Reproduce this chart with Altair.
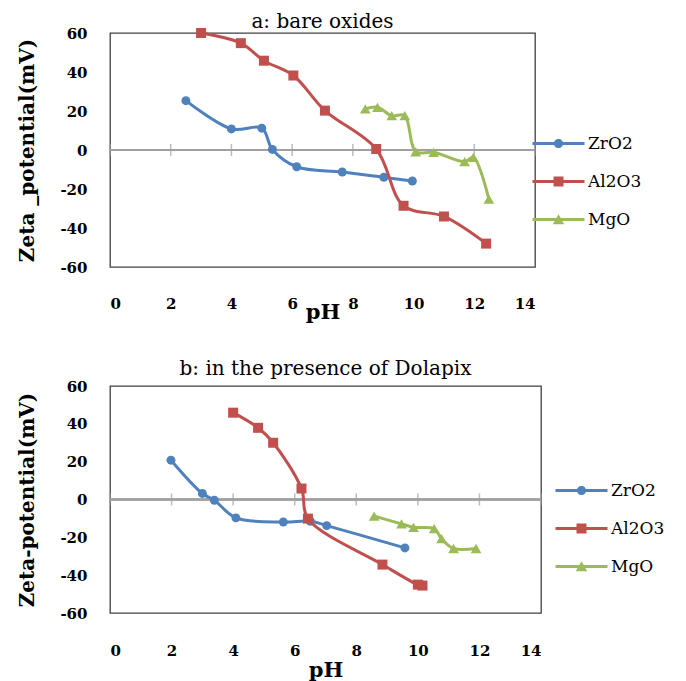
import altair as alt
import pandas as pd

names = ["ZrO2", "Al2O3", "MgO"]
colors = ["#4F81BD", "#C0504D", "#9BBB59"]
shapes = ["circle", "square", "triangle-up"]
sizes = [80, 100, 115]

x_labels = [0, 2, 4, 6, 8, 10, 12, 14]
x_tick_marks = [0, 2, 4, 6, 8, 10, 12, 14]
y_labels = [-60, -40, -20, 0, 20, 40, 60]

# panel a: bare oxides
a_zro2_ph = [2.5, 4.0, 5.0, 5.35, 6.15, 7.65, 9.02, 9.96]
a_zro2_zeta = [25.3, 10.8, 11.2, 0.3, -8.6, -11.3, -14.0, -15.9]
a_al2o3_ph = [3.0, 4.31, 5.07, 6.04, 7.08, 8.77, 9.67, 11.0, 12.39]
a_al2o3_zeta = [60.0, 54.8, 45.8, 38.2, 20.2, 0.5, -28.6, -34.1, -48.0]
a_mgo_ph = [8.41, 8.81, 9.28, 9.71, 10.07, 10.66, 11.68, 11.97, 12.48]
a_mgo_zeta = [21.1, 21.9, 17.6, 17.6, -0.9, -1.2, -6.0, -3.8, -25.2]

# panel b: in the presence of Dolapix
b_zro2_ph = [1.98, 3.0, 3.39, 4.09, 5.63, 6.51, 7.04, 9.58]
b_zro2_zeta = [20.8, 3.2, -0.4, -9.7, -11.9, -11.5, -13.8, -25.6]
b_al2o3_ph = [4.0, 4.81, 5.30, 6.22, 6.43, 8.85, 10.0, 10.15]
b_al2o3_zeta = [45.9, 37.9, 30.0, 5.8, -10.1, -34.4, -45.0, -45.5]
b_mgo_ph = [8.58, 9.47, 9.86, 10.53, 10.77, 11.16, 11.89]
b_mgo_zeta = [-8.8, -12.9, -14.7, -15.4, -20.7, -25.9, -25.9]

FONT = "DejaVu Serif"
GRAY = "#A0A0A0"

# legend symbols: line + marker (unit coords, scaled by 5 px at symbolSize 100)
LINE = "M-5.2,-0.3L5.2,-0.3L5.2,0.3L-5.2,0.3Z"
legend_paths = [
    LINE + "M0.92,0A0.92,0.92 0 1,1 -0.92,0A0.92,0.92 0 1,1 0.92,0Z",
    LINE + "M-1,-1L1,-1L1,1L-1,1Z",
    LINE + "M0,-1.05L1.15,0.95L-1.15,0.95Z",
]


def make_df(series):
    rows = []
    for name, (ph, z) in zip(names, series):
        for i, (p, v) in enumerate(zip(ph, z)):
            rows.append({"Oxide": name, "pH": p, "zeta": v, "order": i})
    return pd.DataFrame(rows)


def panel(series, title, ytitle, w, h, lab_pad, ttl_pad, legx, legy, toff):
    df = make_df(series)
    ticks_df = pd.DataFrame({"pH": x_tick_marks, "zeta": [0] * len(x_tick_marks)})
    x = alt.X(
        "pH:Q",
        scale=alt.Scale(domain=[0, 14], nice=False, zero=False),
        axis=alt.Axis(
            values=x_labels, title="pH", grid=False, domain=False, ticks=False,
            tickSize=0, labelPadding=lab_pad, labelFont=FONT, labelFontSize=15,
            labelFontWeight="bold", labelColor="black", labelOverlap=False,
            titleFont=FONT, titleFontSize=21, titleFontWeight="bold",
            titleColor="black", titlePadding=ttl_pad,
        ),
    )
    y = alt.Y(
        "zeta:Q",
        scale=alt.Scale(domain=[-60, 60], nice=False),
        axis=alt.Axis(
            values=y_labels, title=ytitle, grid=False, domain=False, ticks=False,
            tickSize=0, labelPadding=23, labelFont=FONT, labelFontSize=15,
            labelFontWeight="bold", labelColor="black", labelOverlap=False,
            labelExpr="toString(datum.value)",
            titleFont=FONT, titleFontSize=20, titleFontWeight="bold",
            titleColor="black", titlePadding=22,
        ),
    )
    zero = alt.Chart(ticks_df).mark_rule(color=GRAY, strokeWidth=1.5).encode(y=y)
    ticks = alt.Chart(ticks_df).mark_tick(
        orient="vertical", size=12, thickness=1.5, color=GRAY
    ).encode(x=x, y=y)
    layers = [zero, ticks]
    base = alt.Chart(df)
    for name, col, shp, sz in zip(names, colors, shapes, sizes):
        sub = base.transform_filter(alt.datum.Oxide == name)
        layers.append(
            sub.mark_line(interpolate="catmull-rom", strokeWidth=3, color=col)
            .encode(x=x, y=y, order="order:Q")
        )
        layers.append(
            sub.mark_point(filled=True, opacity=1, shape=shp, size=sz, color=col,
                           strokeWidth=0)
            .encode(x=x, y=y)
        )
    leg = alt.Legend(
        orient="none", legendX=legx, legendY=legy, title=None, labelFont=FONT,
        labelFontSize=17, labelColor="black", labelOffset=21, symbolSize=100,
        symbolStrokeWidth=0, symbolOpacity=1, rowPadding=20, padding=0,
    )
    legend_layer = (
        alt.Chart(df)
        .transform_filter("datum.pH < -1000")
        .mark_point(filled=True, opacity=1)
        .encode(
            x=x,
            y=y,
            color=alt.Color("Oxide:N", scale=alt.Scale(domain=names, range=colors), legend=leg),
            shape=alt.Shape("Oxide:N", scale=alt.Scale(domain=names, range=legend_paths), legend=leg),
        )
    )
    layers.append(legend_layer)
    return alt.layer(*layers).properties(
        width=w,
        height=h,
        title=alt.TitleParams(
            title, font=FONT, fontSize=20, fontWeight="normal", color="black",
            anchor="middle", offset=toff,
        ),
    )


top = panel(
    [(a_zro2_ph, a_zro2_zeta), (a_al2o3_ph, a_al2o3_zeta), (a_mgo_ph, a_mgo_zeta)],
    "a: bare oxides", "Zeta _potential(mV)", 425, 234, 29, -10, 440, 102, -6,
)
bottom = panel(
    [(b_zro2_ph, b_zro2_zeta), (b_al2o3_ph, b_al2o3_zeta), (b_mgo_ph, b_mgo_zeta)],
    "b: in the presence of Dolapix", "Zeta-potential(mV)", 431, 227, 30, 1, 463, 96, 0,
)

chart = (
    alt.vconcat(top, bottom, spacing=35)
    .resolve_scale(color="independent", shape="independent")
    .properties(padding={"left": 9, "top": 3, "right": 5, "bottom": 0}, background="white")
    .configure_view(stroke="#404040", strokeWidth=1.3)
    .configure_axis(labelOverlap=False)
)

chart.save("out.html", embed_options={"renderer": "svg", "actions": False})
